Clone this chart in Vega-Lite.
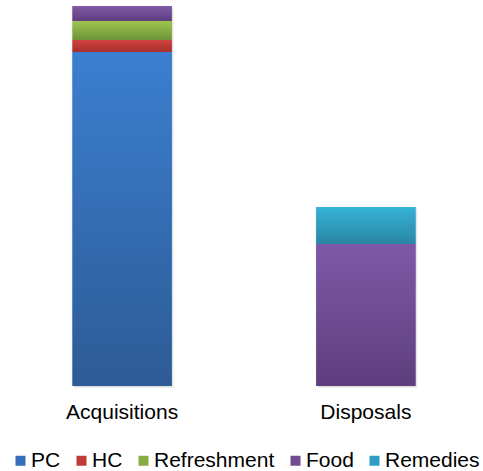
{
  "$schema": "https://vega.github.io/schema/vega-lite/v6.json",
  "width": 478,
  "height": 380,
  "autosize": {"type": "none"},
  "padding": {"left": 5, "top": 6, "right": 0, "bottom": 85},
  "background": "white",
  "config": {
    "view": {"stroke": null},
    "font": "Liberation Sans"
  },
  "data": {
    "values": [
      {"category": "Acquisitions", "series": "PC", "order": 1, "value": 334},
      {"category": "Acquisitions", "series": "HC", "order": 2, "value": 12},
      {"category": "Acquisitions", "series": "Refreshment", "order": 3, "value": 19},
      {"category": "Acquisitions", "series": "Food", "order": 4, "value": 15},
      {"category": "Disposals", "series": "Food", "order": 4, "value": 142},
      {"category": "Disposals", "series": "Remedies", "order": 5, "value": 37}
    ]
  },
  "transform": [
    {
      "stack": "value",
      "groupby": ["category"],
      "sort": [{"field": "order", "order": "ascending"}],
      "as": ["y0", "y1"]
    }
  ],
  "encoding": {
    "x": {
      "field": "category",
      "type": "nominal",
      "sort": ["Acquisitions", "Disposals"],
      "scale": {"paddingInner": 0.593, "paddingOuter": 0.277},
      "axis": {
        "title": null,
        "domain": false,
        "ticks": false,
        "grid": false,
        "labelAngle": 0,
        "labelFontSize": 21,
        "labelColor": "#000000",
        "labelPadding": 15,
        "labelFont": "Liberation Sans"
      }
    }
  },
  "layer": [
    {
      "transform": [
        {"aggregate": [{"op": "sum", "field": "value", "as": "total"}], "groupby": ["category"]}
      ],
      "mark": {"type": "bar", "color": "#000000", "opacity": 0.07, "xOffset": 2, "yOffset": 2},
      "encoding": {
        "y": {"field": "total", "type": "quantitative", "scale": {"domain": [0, 380], "nice": false}, "axis": null}
      }
    },
    {
      "transform": [
        {"aggregate": [{"op": "sum", "field": "value", "as": "total"}], "groupby": ["category"]}
      ],
      "mark": {"type": "bar", "color": "#000000", "opacity": 0.06, "xOffset": 1, "yOffset": 1},
      "encoding": {
        "y": {"field": "total", "type": "quantitative", "scale": {"domain": [0, 380], "nice": false}, "axis": null}
      }
    },
    {
      "transform": [
        {"aggregate": [{"op": "sum", "field": "value", "as": "total"}], "groupby": ["category"]}
      ],
      "mark": {"type": "bar", "color": "#000000", "opacity": 0.04, "xOffset": -1, "yOffset": 0},
      "encoding": {
        "y": {"field": "total", "type": "quantitative", "scale": {"domain": [0, 380], "nice": false}, "axis": null}
      }
    },
    {
      "mark": {"type": "bar"},
      "encoding": {
        "y": {"field": "y1", "type": "quantitative", "scale": {"domain": [0, 380], "nice": false}, "axis": null},
        "y2": {"field": "y0"},
        "color": {
          "field": "series",
          "type": "nominal",
          "scale": {
            "domain": ["PC", "HC", "Refreshment", "Food", "Remedies"],
            "range": ["#356dba", "#bf3a38", "#89ad45", "#704c94", "#2f9ec2"]
          },
          "legend": {
            "title": null,
            "orient": "none",
            "legendX": 5,
            "legendY": 444,
            "direction": "horizontal",
            "padding": 0,
            "symbolType": "square",
            "symbolSize": 100,
            "symbolStrokeWidth": 0,
            "symbolOpacity": 1,
            "labelFontSize": 21,
            "labelFont": "Liberation Sans",
            "labelColor": "#000000",
            "labelOffset": 0,
            "columnPadding": 10,
            "labelLimit": 300
          }
        }
      }
    },
    {
      "transform": [{"filter": "datum.series === 'PC'"}],
      "mark": {
        "type": "bar",
        "fill": {"gradient": "linear", "x1": 0, "y1": 0, "x2": 0, "y2": 1,
          "stops": [{"offset": 0, "color": "#3b7fd0"}, {"offset": 1, "color": "#2d5b95"}]}
      },
      "encoding": {
        "y": {"field": "y1", "type": "quantitative", "scale": {"domain": [0, 380], "nice": false}, "axis": null},
        "y2": {"field": "y0"}
      }
    },
    {
      "transform": [{"filter": "datum.series === 'HC'"}],
      "mark": {
        "type": "bar",
        "fill": {"gradient": "linear", "x1": 0, "y1": 0, "x2": 0, "y2": 1,
          "stops": [{"offset": 0, "color": "#d34141"}, {"offset": 1, "color": "#a52f2d"}]}
      },
      "encoding": {
        "y": {"field": "y1", "type": "quantitative", "scale": {"domain": [0, 380], "nice": false}, "axis": null},
        "y2": {"field": "y0"}
      }
    },
    {
      "transform": [{"filter": "datum.series === 'Refreshment'"}],
      "mark": {
        "type": "bar",
        "fill": {"gradient": "linear", "x1": 0, "y1": 0, "x2": 0, "y2": 1,
          "stops": [{"offset": 0, "color": "#9dc54f"}, {"offset": 1, "color": "#6e9439"}]}
      },
      "encoding": {
        "y": {"field": "y1", "type": "quantitative", "scale": {"domain": [0, 380], "nice": false}, "axis": null},
        "y2": {"field": "y0"}
      }
    },
    {
      "transform": [{"filter": "datum.series === 'Food'"}],
      "mark": {
        "type": "bar",
        "fill": {"gradient": "linear", "x1": 0, "y1": 0, "x2": 0, "y2": 1,
          "stops": [{"offset": 0, "color": "#7f59a7"}, {"offset": 1, "color": "#5e3e7e"}]}
      },
      "encoding": {
        "y": {"field": "y1", "type": "quantitative", "scale": {"domain": [0, 380], "nice": false}, "axis": null},
        "y2": {"field": "y0"}
      }
    },
    {
      "transform": [{"filter": "datum.series === 'Remedies'"}],
      "mark": {
        "type": "bar",
        "fill": {"gradient": "linear", "x1": 0, "y1": 0, "x2": 0, "y2": 1,
          "stops": [{"offset": 0, "color": "#37b3da"}, {"offset": 1, "color": "#2a86a2"}]}
      },
      "encoding": {
        "y": {"field": "y1", "type": "quantitative", "scale": {"domain": [0, 380], "nice": false}, "axis": null},
        "y2": {"field": "y0"}
      }
    }
  ]
}
